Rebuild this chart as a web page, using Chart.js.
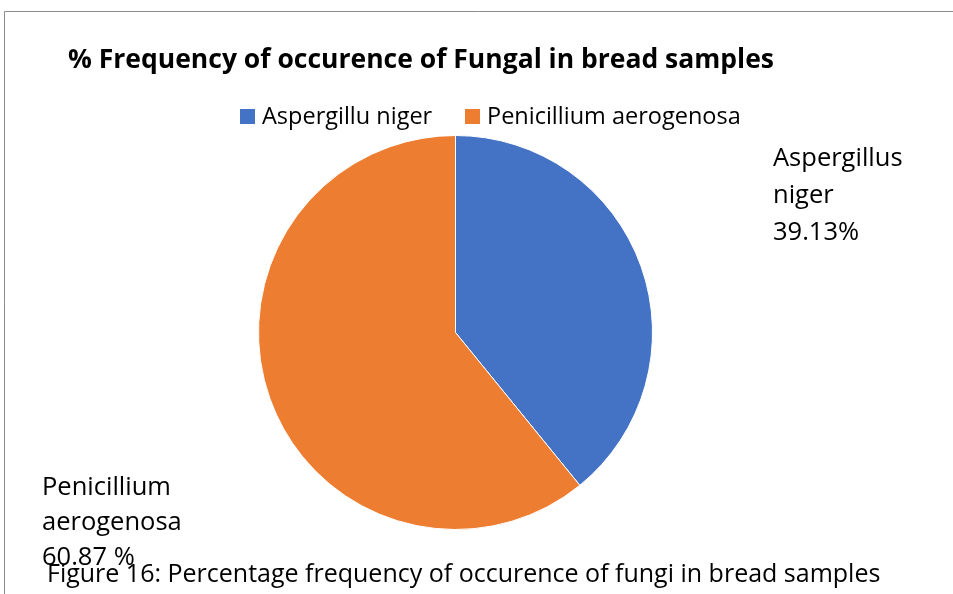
<!DOCTYPE html>
<html>
<head>
<meta charset="utf-8">
<script src="https://cdn.jsdelivr.net/npm/chart.js@4/dist/chart.umd.min.js"></script>
<style>
  html, body { margin: 0; padding: 0; background: #fff; }
  #wrap { position: relative; width: 953px; height: 594px; }
</style>
</head>
<body>
<div id="wrap"><canvas id="chart" width="953" height="594"></canvas></div>
<script>
const TITLE = '% Frequency of occurence of Fungal in bread samples';
const CAPTION = 'Figure 16: Percentage frequency of occurence of fungi in bread samples';
const legendLabels = ['Aspergillu niger', 'Penicillium aerogenosa'];
const sliceValues = [39.13, 60.87];
const sliceColors = ['#4472C4', '#ED7D31'];
const dataLabels = [
  ['Aspergillus', 'niger', '39.13%'],
  ['Penicillium', 'aerogenosa', '60.87 %'],
];

const FONT = '"Open Sans", "Noto Sans", sans-serif';

// frame, title, legend, data labels and caption drawn on top of the pie
const decorPlugin = {
  id: 'decor',
  afterDraw(chart) {
    const ctx = chart.ctx;
    ctx.save();

    // chart frame (only left + top edges visible in the crop)
    ctx.strokeStyle = '#8c8c8c';
    ctx.lineWidth = 1;
    ctx.beginPath();
    ctx.moveTo(4.5, 594);
    ctx.lineTo(4.5, 11.5);
    ctx.lineTo(953, 11.5);
    ctx.stroke();

    ctx.fillStyle = '#000';
    ctx.textAlign = 'left';
    ctx.textBaseline = 'alphabetic';

    ctx.font = `bold 26.5px ${FONT}`;
    ctx.fillText(TITLE, 68, 68);

    // legend
    const legendX = [240, 465];
    ctx.font = `23.5px ${FONT}`;
    legendLabels.forEach((lbl, i) => {
      ctx.fillStyle = sliceColors[i];
      ctx.fillRect(legendX[i], 109, 15, 15);
      ctx.fillStyle = '#000';
      ctx.fillText(lbl, legendX[i] + 22, 124);
    });

    // data labels
    ctx.font = `25.5px ${FONT}`;
    const labelPos = [[773, 166, 37], [42, 495, 35]];
    dataLabels.forEach((lines, i) => {
      const [x, y, step] = labelPos[i];
      lines.forEach((t, j) => ctx.fillText(t, x, y + j * step));
    });

    // figure caption
    ctx.font = `25px ${FONT}`;
    ctx.fillText(CAPTION, 47, 582);

    ctx.restore();
  }
};

new Chart(document.getElementById('chart'), {
  type: 'pie',
  data: {
    labels: legendLabels,
    datasets: [{
      data: sliceValues,
      backgroundColor: sliceColors,
      borderColor: '#ffffff',
      borderWidth: 1,
    }],
  },
  options: {
    responsive: false,
    animation: false,
    layout: { padding: { left: 258, right: 300, top: 134, bottom: 63 } },
    plugins: {
      legend: { display: false },
      title: { display: false },
      tooltip: { enabled: false },
    },
  },
  plugins: [decorPlugin],
});
</script>
</body>
</html>
